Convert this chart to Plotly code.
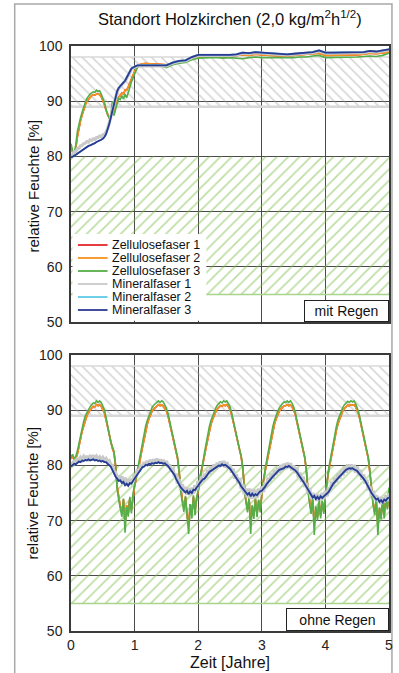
import plotly.graph_objects as go

# ---------------- data ----------------
series_names = ["Zellulosefaser 1", "Zellulosefaser 2", "Zellulosefaser 3",
                "Mineralfaser 1", "Mineralfaser 2", "Mineralfaser 3"]
series_colors = ["#e3262b", "#f6921e", "#55ae47", "#c9c9c9", "#5ecbe6", "#2b3a92"]
x_ticks = [0, 1, 2, 3, 4, 5]
y_ticks = [50, 60, 70, 80, 90, 100]
band_gray = [89, 98]     # hatched grey band (relative humidity %)
band_green = [55, 80]    # hatched green band

def nums(s):
    return [float(v) for v in s.split()]

# time axis (years)
t_top = [round(i * 0.025, 3) for i in range(49)] + [round(1.3 + 0.1 * i, 2) for i in range(38)]
t_bot = [round(i * 0.025, 3) for i in range(201)]

# --- mit Regen ---
zell2_top = nums("""
81.8 80.8 80.5 81.5 83.5 85.3 86.5 87.5 88.5 89.3 90.0 90.4 90.8 91.0 91.2 91.1 91.3 91.2 91.2 90.8
90.2 89.4 88.4 87.5 87.0 87.1 88.8 87.6 88.8 90.2 90.8 91.0 91.5 91.3 92.0 92.0 92.6 93.3 94.2 94.9
95.4 95.9 96.3 96.6 96.7 96.8 96.8 96.8 96.8
96.8 96.7 96.6 96.9 97.2 97.3 97.8 98.0 98.1 98.1 98.1 98.0 98.1 98.2 98.4 98.3 98.5 98.4 98.3 98.3
98.2 98.2 98.3 98.4 98.5 98.5 98.7 98.3 98.3 98.4 98.4 98.4 98.4 98.5 98.7 98.6 98.8 98.9""")
zell1_top = zell2_top
zell3_top = nums("""
82.3 81.0 80.8 82.0 84.5 86.0 87.0 88.0 89.0 89.8 90.5 91.0 91.3 91.5 91.7 91.6 92.0 91.8 91.9 91.3
90.6 89.8 88.6 87.5 87.0 87.3 90.0 87.4 88.5 89.8 90.5 90.3 91.0 90.4 91.3 90.6 91.8 92.5 93.5 94.3
94.8 95.6 96.2 96.4 96.5 96.6 96.6 96.7 96.6
96.6 96.5 96.1 96.6 96.9 97.0 97.5 97.8 97.9 97.9 97.9 97.8 97.9 97.8 97.7 97.9 98.0 97.9 97.9 97.9
97.9 97.8 97.9 98.0 98.0 98.2 98.3 97.9 97.9 98.0 98.0 98.0 98.0 98.1 98.2 98.1 98.3 98.7""")
min1_top = nums("""
80.5 80.2 80.9 80.9 81.4 81.5 81.9 82.0 82.3 82.4 82.7 82.6 83.0 82.9 83.2 83.1 83.4 83.4 83.7 83.6
83.9 84.0 84.4 85.0 86.0 87.1 88.4 89.6 90.7 91.7 92.3 92.7 93.0 93.3 93.6 94.2 94.9 95.5 95.8 96.0
96.2 96.3 96.4 96.4 96.5 96.5 96.5 96.5 96.5
96.4 96.4 96.4 96.9 97.2 97.3 97.9 98.3 98.3 98.3 98.3 98.2 98.3 98.4 98.7 98.6 98.8 98.7 98.6 98.6
98.5 98.4 98.5 98.6 98.8 98.8 99.1 98.7 98.7 98.7 98.7 98.7 98.7 98.8 99.0 98.9 99.1 99.3""")
min3_top = nums("""
79.8 79.9 80.1 80.3 80.5 80.8 81.0 81.2 81.4 81.6 81.7 81.9 82.0 82.1 82.3 82.4 82.6 82.7 82.9 83.0
83.2 83.5 84.0 84.8 85.8 87.0 88.3 89.6 90.8 91.8 92.4 92.8 93.1 93.4 93.7 94.3 95.0 95.6 95.9 96.1
96.3 96.4 96.5 96.5 96.6 96.6 96.6 96.6 96.6
96.5 96.5 96.5 97.0 97.3 97.4 98.0 98.4 98.4 98.4 98.4 98.3 98.4 98.5 98.8 98.7 98.9 98.8 98.7 98.7
98.6 98.5 98.6 98.7 98.9 98.9 99.2 98.8 98.8 98.8 98.8 98.8 98.8 98.9 99.1 99.0 99.2 99.4""")
min2_top = min3_top

# --- ohne Regen ---
zell3_bot = nums("""
81.5 82.0 81.2 81.6 82.6 84.0 85.6 87.0 88.0 89.0 89.6 90.1 90.6 91.0 91.3 91.2 91.7 91.4 91.7 91.4
90.8 90.1 88.8 87.2 85.6 84.2 83.4 82.6 80.2 75.8 73.8 72.0 70.7 74.0 67.8 72.5 70.7 74.3 71.3 74.9
76.5 78.0 79.1 80.8 82.6 84.0 85.8 87.2 88.2 89.0 89.8 90.5 90.9 91.2 91.5 91.7 91.4 91.7 91.5 91.0
90.4 89.4 88.0 86.4 85.0 83.6 82.8 81.5 79.0 75.2 73.4 71.6 74.5 70.2 67.6 73.0 70.4 74.6 71.0 74.2
75.5 77.8 79.0 80.6 82.4 84.0 85.7 87.0 88.1 89.0 89.7 90.4 90.9 91.3 91.5 91.3 91.7 91.5 91.7 91.2
90.6 89.6 88.2 86.8 85.3 84.0 82.9 81.8 79.8 75.6 73.2 71.5 74.2 67.6 72.8 70.3 74.0 70.6 73.8 71.5
75.0 77.5 79.2 80.8 82.5 84.1 85.8 87.1 88.2 89.1 89.8 90.4 90.9 91.2 91.5 91.4 91.7 91.4 91.7 91.3
90.6 89.7 88.3 86.8 85.4 84.0 82.9 81.6 79.4 75.4 73.0 71.2 74.0 67.4 72.6 70.0 73.8 70.4 73.6 71.2
74.8 77.6 79.3 80.9 82.6 84.2 85.9 87.2 88.3 89.1 89.8 90.5 91.0 91.3 91.6 91.4 91.7 91.5 91.7 91.2
90.5 89.6 88.2 86.7 85.2 83.8 82.7 81.4 79.0 75.0 72.8 71.0 73.8 67.4 72.4 70.2 73.6 70.4 74.6 72.0
76.0""")
zell2_bot = nums("""
81.2 81.6 81.0 81.2 82.0 83.2 84.8 86.2 87.3 88.3 89.0 89.6 90.0 90.4 90.7 90.6 91.0 90.8 91.0 90.7
90.2 89.5 88.3 86.9 85.4 84.0 83.1 82.3 80.0 76.2 74.2 72.6 71.5 73.8 69.5 72.8 71.4 74.0 72.0 74.6
76.2 77.6 78.8 80.2 81.9 83.3 85.0 86.5 87.5 88.4 89.2 89.8 90.2 90.5 90.8 91.0 90.8 91.0 90.8 90.4
89.9 89.0 87.7 86.1 84.8 83.4 82.6 81.3 78.8 75.6 73.8 72.2 74.2 70.8 69.5 73.0 71.2 74.3 71.6 74.0
75.2 77.4 78.7 80.1 81.8 83.3 84.9 86.3 87.4 88.3 89.1 89.7 90.2 90.6 90.8 90.7 91.0 90.8 91.0 90.6
90.1 89.2 87.9 86.5 85.0 83.8 82.7 81.6 79.5 75.9 73.6 72.0 74.0 69.4 72.6 70.9 73.8 71.2 73.6 71.9
74.8 77.1 78.8 80.3 81.9 83.4 85.0 86.4 87.5 88.4 89.2 89.8 90.2 90.5 90.8 90.8 91.0 90.8 91.0 90.7
90.1 89.3 88.0 86.5 85.1 83.8 82.7 81.4 79.1 75.7 73.4 71.8 73.8 69.2 72.4 70.6 73.6 71.0 73.4 71.6
74.6 77.2 78.9 80.4 82.0 83.5 85.1 86.5 87.6 88.4 89.2 89.9 90.3 90.6 90.9 90.8 91.0 90.9 91.0 90.6
90.0 89.2 87.9 86.4 84.9 83.6 82.5 81.2 78.7 75.3 73.2 71.6 73.6 69.2 72.2 70.7 73.4 71.0 74.2 72.3
75.6""")
zell1_bot = zell2_bot
min1_bot = nums("""
80.6 79.9 80.9 80.6 81.3 80.8 81.4 81.0 81.6 81.2 81.7 81.2 81.6 81.3 81.8 81.1 81.6 81.2 81.5 81.0
81.4 80.9 81.2 80.6 80.8 80.1 80.0 78.9 78.7 77.8 77.9 77.2 78.0 76.6 77.8 76.4 77.5 76.5 77.6 77.0
78.5 77.9 79.3 78.9 80.1 79.6 80.6 80.1 80.8 80.3 81.0 80.4 81.1 80.5 81.2 80.6 81.1 80.4 81.0 80.2
80.8 79.7 80.2 78.9 79.6 78.0 78.5 76.7 77.5 75.6 76.6 75.0 76.1 74.7 75.9 74.6 76.0 74.9 76.4 75.5
77.2 76.4 78.0 77.1 78.5 77.7 79.2 78.4 79.8 78.9 80.2 79.3 80.5 79.6 80.7 79.8 80.8 79.6 80.6 79.3
80.1 78.7 79.4 77.6 78.4 76.8 77.7 75.8 76.6 74.8 75.8 74.2 75.8 73.9 75.7 74.0 75.6 74.1 75.8 74.7
76.2 75.2 76.9 76.1 77.8 77.0 78.5 77.6 79.1 78.3 79.6 78.7 80.1 79.1 80.3 79.3 80.5 79.5 80.4 79.1
80.0 78.6 79.6 77.8 78.7 77.0 78.0 76.1 76.8 75.0 75.9 74.0 75.0 73.9 74.8 73.6 74.7 73.8 75.0 73.9
75.4 74.4 76.0 75.3 77.0 76.2 77.8 76.9 78.5 77.6 79.1 78.2 79.7 78.7 80.2 79.0 80.2 79.0 80.1 78.7
79.8 78.1 79.2 77.4 78.4 76.7 77.4 75.5 76.2 74.5 75.4 73.7 74.6 73.5 74.3 73.0 74.2 73.3 74.5 73.5
75.0""")
min3_bot = nums("""
79.8 80.0 80.3 80.2 80.5 80.7 80.6 80.9 80.8 81.0 80.9 81.1 80.9 81.0 81.1 80.9 81.0 80.8 80.9 80.7
80.8 80.6 80.6 80.3 80.1 79.8 79.2 78.5 78.0 77.6 77.2 77.3 76.8 77.0 76.4 76.7 76.3 76.8 76.7 77.2
77.6 78.0 78.6 79.0 79.3 79.7 79.8 80.1 80.0 80.3 80.2 80.4 80.3 80.5 80.4 80.6 80.4 80.5 80.3 80.4
80.1 79.9 79.5 79.1 78.8 78.3 77.6 77.0 76.6 76.0 75.7 75.4 75.1 75.4 74.8 75.3 75.0 75.6 75.5 76.0
76.3 76.8 77.1 77.5 77.6 78.1 78.4 78.8 79.0 79.3 79.4 79.7 79.8 80.0 79.9 80.2 80.0 80.1 79.9 79.7
79.4 79.0 78.6 78.0 77.6 77.2 76.8 76.2 75.8 75.3 75.0 74.7 75.0 74.4 74.9 74.5 74.8 74.6 75.0 75.3
75.4 75.7 76.1 76.6 77.0 77.4 77.7 78.0 78.3 78.7 78.9 79.2 79.3 79.5 79.5 79.8 79.7 79.9 79.7 79.6
79.3 79.1 78.8 78.3 77.9 77.5 77.1 76.6 76.0 75.5 75.0 74.5 74.2 74.5 73.9 74.3 73.9 74.4 74.1 74.4
74.6 74.9 75.2 75.8 76.2 76.7 77.0 77.4 77.7 78.0 78.3 78.7 78.9 79.2 79.4 79.5 79.4 79.5 79.3 79.2
79.0 78.6 78.3 77.9 77.6 77.2 76.6 76.0 75.4 75.0 74.6 74.2 73.8 74.0 73.4 73.7 73.3 73.8 73.6 74.0
74.2""")
min2_bot = min3_bot

top_series = [zell1_top, zell2_top, zell3_top, min1_top, min2_top, min3_top]
bot_series = [zell1_bot, zell2_bot, zell3_bot, min1_bot, min2_bot, min3_bot]
for s in top_series:
    assert len(s) == len(t_top), len(s)
for s in bot_series:
    assert len(s) == len(t_bot), len(s)

# ---------------- layout helpers ----------------
W, H = 399, 673
ML, MR, MT, MB = 71, 6, 46, 42
PW, PH = W - ML - MR, H - MT - MB

def fx(px):
    return (px - ML) / PW

def fy(py):
    return (H - MB - py) / PH

FONT = "Liberation Sans, Arial, sans-serif"
widths = [1.6, 1.6, 1.6, 3.2, 1.6, 1.8]
widths_bot = [1.6, 1.6, 1.6, 3.5, 1.6, 1.8]

fig = go.Figure()

for xa, ya in (("x", "y"), ("x2", "y2")):
    # grey hatched band
    fig.add_trace(go.Scatter(
        x=[0, 5, 5, 0, 0], y=[band_gray[0], band_gray[0], band_gray[1], band_gray[1], band_gray[0]],
        xaxis=xa, yaxis=ya, mode="lines", line=dict(width=0), fill="toself",
        fillcolor="rgba(0,0,0,0)",
        fillpattern=dict(shape="\\", fgcolor="#a0a0a0", bgcolor="rgba(0,0,0,0)", size=7, solidity=0.2),
        showlegend=False, hoverinfo="skip"))
    for v, w in ((band_gray[0], 2.5), (band_gray[1], 1.5)):
        fig.add_trace(go.Scatter(x=[0, 5], y=[v, v], xaxis=xa, yaxis=ya, mode="lines",
                                 line=dict(color="#d8d8d8", width=w), showlegend=False, hoverinfo="skip"))
    # green hatched band
    fig.add_trace(go.Scatter(
        x=[0, 5, 5, 0, 0], y=[band_green[0], band_green[0], band_green[1], band_green[1], band_green[0]],
        xaxis=xa, yaxis=ya, mode="lines", line=dict(width=0), fill="toself",
        fillcolor="rgba(0,0,0,0)",
        fillpattern=dict(shape="/", fgcolor="#7dbd4a", bgcolor="rgba(0,0,0,0)", size=8, solidity=0.22),
        showlegend=False, hoverinfo="skip"))
    fig.add_trace(go.Scatter(x=[0, 5], y=[band_green[0], band_green[0]], xaxis=xa, yaxis=ya, mode="lines",
                             line=dict(color="#a9d48c", width=1.5), showlegend=False, hoverinfo="skip"))

for name, col, w, ys in zip(series_names, series_colors, widths, top_series):
    fig.add_trace(go.Scatter(x=t_top, y=ys, xaxis="x", yaxis="y", mode="lines", name=name,
                             line=dict(color=col, width=w), showlegend=False))
for name, col, w, ys in zip(series_names, series_colors, widths_bot, bot_series):
    fig.add_trace(go.Scatter(x=t_bot, y=ys, xaxis="x2", yaxis="y2", mode="lines", name=name,
                             line=dict(color=col, width=w), showlegend=False))

axis_common = dict(range=[0, 5], tickvals=x_ticks, showgrid=True, gridcolor="#4a4a4a", gridwidth=1,
                   showline=True, linecolor="#3a3a3a", linewidth=1.5, mirror=True, zeroline=False,
                   ticks="", tickfont=dict(family=FONT, size=14, color="#222"))
yaxis_common = dict(range=[50, 100], tickvals=y_ticks, showgrid=True, gridcolor="#4a4a4a", gridwidth=1,
                    showline=True, linecolor="#3a3a3a", linewidth=1.5, mirror=True, zeroline=False,
                    ticks="", tickfont=dict(family=FONT, size=14, color="#222"), ticklabelstandoff=4)

fig.update_layout(
    width=W, height=H, margin=dict(l=ML, r=MR, t=MT, b=MB),
    paper_bgcolor="white", plot_bgcolor="white", showlegend=False,
    font=dict(family=FONT, color="#222"),
    xaxis=dict(axis_common, domain=[0, 1], anchor="y", showticklabels=False),
    yaxis=dict(yaxis_common, domain=[fy(322), 1], anchor="x"),
    xaxis2=dict(axis_common, domain=[0, 1], anchor="y2", showticklabels=True),
    yaxis2=dict(yaxis_common, domain=[0, fy(355)], anchor="x2"),
)

shapes = []
# outer frame
shapes.append(dict(type="rect", xref="paper", yref="paper", x0=fx(14), x1=fx(396), y0=fy(690), y1=fy(4),
                   line=dict(color="#a8a8a8", width=1.5), fillcolor="rgba(0,0,0,0)", layer="below"))
# legend background
shapes.append(dict(type="rect", xref="paper", yref="paper", x0=fx(72.5), x1=fx(208), y0=fy(320.8), y1=fy(234),
                   line=dict(width=0), fillcolor="white", layer="above"))
annotations = []
leg_y = [245, 258, 271, 284, 297, 310]
for name, col, py in zip(series_names, series_colors, leg_y):
    shapes.append(dict(type="line", xref="paper", yref="paper", x0=fx(78), x1=fx(108), y0=fy(py), y1=fy(py),
                       line=dict(color=col, width=1.8), layer="above"))
    annotations.append(dict(text=name, xref="paper", yref="paper", x=fx(111), y=fy(py), xanchor="left",
                            yanchor="middle", showarrow=False, height=12, borderpad=0, valign="middle",
                            font=dict(family=FONT, size=12.5, color="#111")))

annotations += [
    dict(text="Standort Holzkirchen (2,0 kg/m<sup>2</sup>h<sup>1/2</sup>)", xref="paper", yref="paper",
         x=fx(232), y=fy(18), xanchor="center", yanchor="middle", showarrow=False,
         font=dict(family=FONT, size=16.5, color="#111")),
    dict(text="relative Feuchte [%]", xref="paper", yref="paper", x=fx(33), y=fy(186), textangle=-90,
         xanchor="center", yanchor="middle", showarrow=False, font=dict(family=FONT, size=15, color="#111")),
    dict(text="relative Feuchte [%]", xref="paper", yref="paper", x=fx(33), y=fy(493), textangle=-90,
         xanchor="center", yanchor="middle", showarrow=False, font=dict(family=FONT, size=15, color="#111")),
    dict(text="Zeit [Jahre]", xref="paper", yref="paper", x=fx(232), y=fy(662), xanchor="center",
         yanchor="middle", showarrow=False, font=dict(family=FONT, size=16, color="#111")),
    dict(text="mit Regen", xref="paper", yref="paper", x=fx(392.5), y=fy(322), xanchor="right", yanchor="bottom",
         showarrow=False, width=79, height=16, borderpad=2, borderwidth=1, bordercolor="#222", bgcolor="white",
         font=dict(family=FONT, size=14, color="#111")),
    dict(text="ohne Regen", xref="paper", yref="paper", x=fx(393.5), y=fy(631), xanchor="right", yanchor="bottom",
         showarrow=False, width=97, height=17, borderpad=2, borderwidth=1, bordercolor="#222", bgcolor="white",
         font=dict(family=FONT, size=14, color="#111")),
]
fig.update_layout(shapes=shapes, annotations=annotations)

fig.write_html("out.html", config={"displayModeBar": False},
               post_script="document.body.style.margin='0';document.body.style.overflow='hidden';")
